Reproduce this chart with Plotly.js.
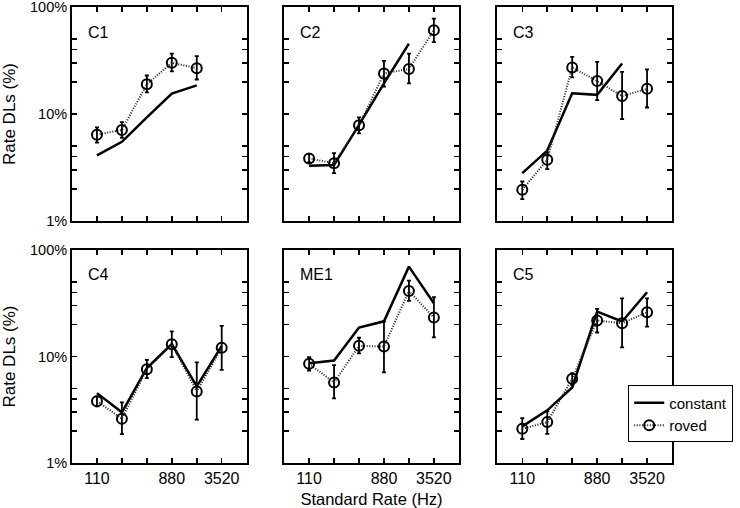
<!DOCTYPE html>
<html>
<head>
<meta charset="utf-8">
<script src="https://cdn.plot.ly/plotly-3.0.1.min.js"></script>
<style>html,body{margin:0;padding:0;background:#fff;}#chart{width:740px;height:508px;}</style>
</head>
<body>
<div id="chart"></div>
<script>
// Standard rates (Hz)
const rates = [110, 220, 440, 880, 1760, 3520];
const panelNames = ['C1', 'C2', 'C3', 'C4', 'ME1', 'C5'];

// Constant condition (Rate DL, %)
const constC1  = [4.1, 5.5, 9.3, 15.5, 18.5];
const constC2  = [3.28, 3.33, 7.9, 19.3, 45.5];
const constC3  = [2.8, 4.55, 15.6, 15.1, 29.7];
const constC4  = [4.53, 2.99, 7.8, 13.1, 5.24, 12.6];
const constME1 = [8.66, 9.17, 18.7, 21.4, 69.8, 31.6];
const constC5  = [2.21, 3.12, 5.12, 26.4, 21.3, 40.1];

// Roved condition (Rate DL, %)
const rovedC1  = [6.4, 7.1, 19.0, 30.1, 26.8];
const rovedC2  = [3.84, 3.47, 7.84, 23.9, 26.4, 60.6];
const rovedC3  = [1.96, 3.73, 27.2, 20.3, 14.7, 17.2];
const rovedC4  = [3.81, 2.60, 7.61, 13.0, 4.70, 12.1];
const rovedME1 = [8.54, 5.70, 12.6, 12.4, 41.3, 23.2];
const rovedC5  = [2.10, 2.42, 6.18, 21.8, 20.5, 26.0];

// Roved error bar upper / lower bounds (%)
const upperC1  = [7.5, 8.4, 22.9, 36.7, 34.7];
const lowerC1  = [5.4, 6.0, 15.9, 25.0, 21.0];
const upperC2  = [4.24, 4.3, 9.3, 31.4, 36.7, 77.9];
const lowerC2  = [3.52, 2.8, 6.6, 18.0, 19.3, 46.9];
const upperC3  = [2.34, 4.36, 34.2, 30.7, 24.8, 26.1];
const lowerC3  = [1.60, 3.05, 22.0, 13.5, 8.98, 11.5];
const upperC4  = [4.22, 3.71, 9.3, 17.2, 8.79, 19.4];
const lowerC4  = [3.40, 1.87, 6.27, 9.86, 2.55, 7.5];
const upperME1 = [9.86, 8.3, 15.0, 21.3, 51.6, 36.0];
const lowerME1 = [7.39, 4.04, 10.7, 7.08, 33.3, 15.1];
const upperC5  = [2.64, 3.05, 6.98, 28.0, 35.2, 35.2];
const lowerC5  = [1.68, 1.88, 5.43, 16.8, 12.2, 19.1];

const xTickVals = [110, 220, 440, 880, 1760, 3520];
const xTickText = ['110', '', '', '880', '', '3520'];
const yTickVals = [1, 2, 3, 4, 5, 10, 20, 30, 40, 50, 100];
const yTickText = ['1%', '', '', '', '', '10%', '', '', '', '', '100%'];

const constants = [constC1, constC2, constC3, constC4, constME1, constC5];
const roveds = [rovedC1, rovedC2, rovedC3, rovedC4, rovedME1, rovedC5];
const uppers = [upperC1, upperC2, upperC3, upperC4, upperME1, upperC5];
const lowers = [lowerC1, lowerC2, lowerC3, lowerC4, lowerME1, lowerC5];

const FONT = 'Liberation Sans, Arial, sans-serif';
const xDomains = [[0, 0.2911], [0.3536, 0.6447], [0.7089, 1]];
const yDomains = [[0.5307, 1], [0, 0.4671]];

const traces = [];
const layout = {
  width: 740, height: 508,
  margin: {l: 72, r: 60, t: 7, b: 45},
  paper_bgcolor: '#fff', plot_bgcolor: '#fff',
  font: {family: FONT, size: 16, color: '#000'},
  showlegend: true,
  legend: {
    x: 0.927, y: 0.17, xanchor: 'left', yanchor: 'top',
    bgcolor: '#fff', bordercolor: '#000', borderwidth: 1,
    font: {family: FONT, size: 15, color: '#000'},
    tracegroupgap: 0, itemwidth: 30
  },
  annotations: []
};

for (let i = 0; i < 6; i++) {
  const n = i + 1;
  const row = Math.floor(i / 3), col = i % 3;
  const xa = 'x' + (n === 1 ? '' : n), ya = 'y' + (n === 1 ? '' : n);
  const xk = 'xaxis' + (n === 1 ? '' : n), yk = 'yaxis' + (n === 1 ? '' : n);
  const cv = constants[i], rv = roveds[i];
  traces.push({
    x: rates.slice(0, cv.length), y: cv, xaxis: xa, yaxis: ya,
    type: 'scatter', mode: 'lines', name: 'constant',
    line: {color: '#000', width: 2.5},
    showlegend: i === 0, legendrank: 1
  });
  traces.push({
    x: rates.slice(0, rv.length), y: rv, xaxis: xa, yaxis: ya,
    type: 'scatter', mode: 'lines+markers', name: 'roved',
    line: {color: '#222', width: 2, dash: '1px,1.6px'},
    marker: {symbol: 'circle-open', size: 10, color: '#000', line: {width: 2, color: '#000'}},
    error_y: {
      type: 'data', symmetric: false,
      array: uppers[i].map((u, k) => u - rv[k]),
      arrayminus: lowers[i].map((l, k) => rv[k] - l),
      color: '#000', thickness: 1.8, width: 2
    },
    showlegend: i === 0, legendrank: 2
  });
  layout[xk] = {
    type: 'log', range: [Math.log10(55), Math.log10(7040)],
    domain: xDomains[col], anchor: ya,
    tickmode: 'array', tickvals: xTickVals,
    ticktext: row === 1 ? xTickText : xTickVals.map(() => ''),
    ticks: 'inside', ticklen: 5, tickwidth: 1.5, tickcolor: '#000',
    showline: true, linecolor: '#000', linewidth: 2, mirror: 'allticks',
    showgrid: false, zeroline: false,
    tickfont: {family: FONT, size: 16, color: '#000'},
    ticklabeloverflow: 'allow',
    fixedrange: true
  };
  if (i === 4) {
    layout[xk].title = {text: 'Standard Rate (Hz)', font: {family: FONT, size: 16.5, color: '#000'}, standoff: 7};
  }
  layout[yk] = {
    type: 'log', range: [0, 2],
    domain: yDomains[row], anchor: xa,
    tickmode: 'array', tickvals: yTickVals,
    ticktext: col === 0 ? yTickText : yTickVals.map(() => ''),
    ticks: 'inside', ticklen: 5, tickwidth: 1.5, tickcolor: '#000',
    showline: true, linecolor: '#000', linewidth: 2, mirror: 'allticks',
    showgrid: false, zeroline: false,
    tickfont: {family: FONT, size: 14.5, color: '#000'},
    ticklabeloverflow: 'allow',
    fixedrange: true
  };
  if (col === 0) {
    layout[yk].title = {text: 'Rate DLs (%)', font: {family: FONT, size: 17, color: '#000'}, standoff: 14};
  }
  layout.annotations.push({
    xref: xa + ' domain', yref: ya + ' domain',
    x: 0.08, y: 0.883, xanchor: 'left', yanchor: 'middle',
    text: panelNames[i], showarrow: false,
    font: {family: FONT, size: 16, color: '#000'}
  });
}

Plotly.newPlot('chart', traces, layout, {displayModeBar: false, staticPlot: true});
</script>
</body>
</html>
